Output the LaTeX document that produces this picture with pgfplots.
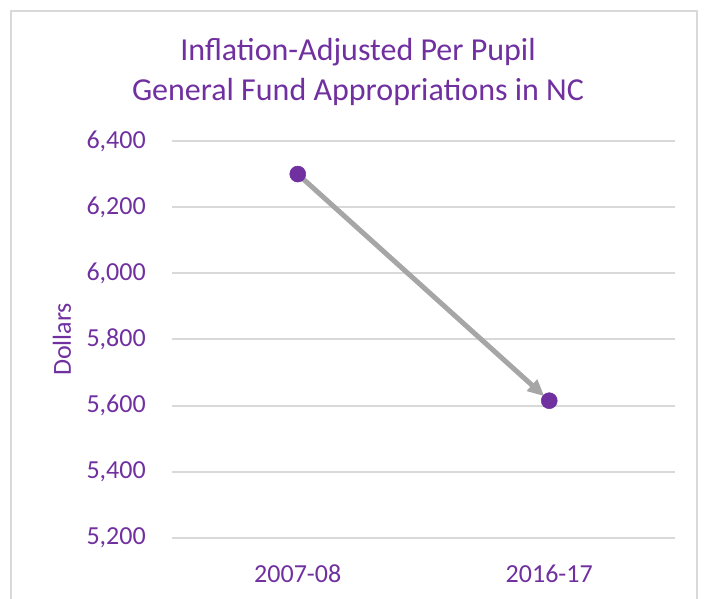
\documentclass[border=0pt]{standalone}
\usepackage{fontspec}
\setmainfont{Carlito}
\usepackage{pgfplots}
\pgfplotsset{compat=1.18}
\usetikzlibrary{arrows.meta}
\definecolor{ncpurple}{HTML}{7030A0}
\definecolor{arrowgray}{HTML}{A6A6A6}
\definecolor{gridgray}{HTML}{D9D9D9}

\begin{document}
\begin{tikzpicture}[x=0.75pt,y=0.75pt]
\useasboundingbox (0,0) rectangle (706,599);
% chart frame (bottom edge falls outside the picture)
\draw[gridgray, line width=1.5pt] (11,-20) rectangle (697,588);
\node[anchor=base, inner sep=0pt, text=ncpurple, font=\fontsize{24}{30}\selectfont]
  at (358,538) {Inflation-Adjusted Per Pupil};
\node[anchor=base, inner sep=0pt, text=ncpurple, font=\fontsize{24}{30}\selectfont]
  at (358,498) {General Fund Appropriations in NC};
\begin{axis}[
  at={(129pt,45.75pt)}, anchor=south west,
  scale only axis,
  width=377.25pt, height=297.75pt,
  xmin=-0.5, xmax=1.5, ymin=5200, ymax=6400,
  xtick={0,1}, xticklabels={2007-08,2016-17},
  ytick={5200,5400,...,6400},
  scaled y ticks=false,
  axis line style={draw=none},
  major tick length=0pt,
  ymajorgrids,
  grid style={draw=gridgray, line width=1.5pt},
  tick label style={text=ncpurple, font=\fontsize{19.5}{23}\selectfont},
  yticklabel style={anchor=east, inner sep=0pt, xshift=-19.5pt},
  xticklabel style={anchor=base, inner sep=0pt, yshift=-33pt},
  /pgf/number format/1000 sep={,},
  /pgf/number format/assume math mode=true,
  ylabel={Dollars},
  ylabel style={at={(axis description cs:-0.2187,0.5)}, anchor=center,
    text=ncpurple, font=\fontsize{19.5}{23}\selectfont},
  clip=false,
]
% change between the two years
\addplot[arrowgray, line width=3.75pt,
  -{Triangle[length=12.5pt,width=11pt]}, shorten >=5pt]
  coordinates {(0,6300) (1,5615)};
\addplot[only marks, mark=*, mark size=6pt, ncpurple]
  coordinates {(0,6300) (1,5615)};
\end{axis}
\end{tikzpicture}
\end{document}
